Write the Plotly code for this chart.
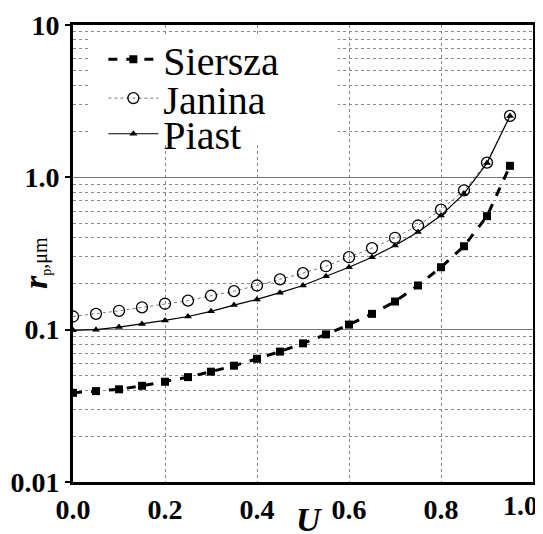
import plotly.graph_objects as go

U = [0.0, 0.05, 0.1, 0.15, 0.2, 0.25, 0.3, 0.35, 0.4, 0.45, 0.5, 0.55, 0.6, 0.65, 0.7, 0.75, 0.8, 0.85, 0.9, 0.95]
siersza = [0.0385, 0.0395, 0.0406, 0.0428, 0.0455, 0.0488, 0.053, 0.058, 0.0644, 0.0718, 0.0813, 0.0931, 0.108, 0.127, 0.153, 0.195, 0.257, 0.353, 0.556, 1.19]
janina = [0.122, 0.127, 0.133, 0.140, 0.148, 0.155, 0.167, 0.179, 0.195, 0.214, 0.235, 0.261, 0.299, 0.343, 0.401, 0.483, 0.613, 0.821, 1.25, 2.53]
piast = [0.099, 0.100, 0.104, 0.109, 0.115, 0.122, 0.132, 0.145, 0.158, 0.175, 0.195, 0.224, 0.257, 0.299, 0.357, 0.437, 0.562, 0.781, 1.24, 2.53]

x_ticks = [0.0, 0.2, 0.4, 0.6, 0.8]
x_ticktext = ["0.0", "0.2", "0.4", "0.6", "0.8"]
x_last_label = "1.0"
y_ticks = [0.01, 0.1, 1, 10]
y_ticktext = ["0.01", "0.1", "1.0", "10"]
y_minor = [m * 10.0 ** e for e in (-2, -1, 0) for m in range(2, 10)]

SERIF = "Liberation Serif"

fig = go.Figure()
fig.add_trace(go.Scatter(
    x=U, y=siersza, name="Siersza", mode="lines+markers", legend="legend",
    line=dict(color="black", width=3, dash="dash"),
    marker=dict(symbol="square", size=8, color="black")))
fig.add_trace(go.Scatter(
    x=U, y=janina, name="Janina", mode="lines+markers", legend="legend2",
    line=dict(color="#777", width=1, dash="dot"),
    marker=dict(symbol="circle-open", size=11, color="black", line=dict(width=1.3))))
fig.add_trace(go.Scatter(
    x=U, y=piast, name="Piast", mode="lines+markers", legend="legend3",
    line=dict(color="black", width=1.2),
    marker=dict(symbol="triangle-up", size=7, color="black")))

def leg(ypos):
    return dict(x=0.066, y=ypos, xanchor="left", yanchor="middle",
                bgcolor="rgba(0,0,0,0)", borderwidth=0,
                itemwidth=50,
                font=dict(family=SERIF, size=40, color="black"))

fig.update_layout(
    width=535, height=526,
    margin=dict(l=65, r=10, t=17, b=52, autoexpand=False),
    paper_bgcolor="white", plot_bgcolor="white",
    font=dict(family=SERIF, color="black"),
    showlegend=True,
    legend=leg(0.925),
    legend2=leg(0.840),
    legend3=leg(0.762),
    # white background panel behind the legend entries
    shapes=[dict(type="rect", xref="paper", yref="paper", x0=0.033, x1=0.576,
                 y0=0.744, y1=0.978, fillcolor="white", line=dict(width=0),
                 layer="above")],
    xaxis=dict(range=[0, 1], tickmode="array", tickvals=x_ticks, ticktext=x_ticktext,
               automargin=False,
               showline=True, linecolor="black", linewidth=3, mirror=True,
               showgrid=True, gridcolor="#888", griddash="dot", gridwidth=1,
               zeroline=False, ticks="",
               tickfont=dict(family=SERIF, size=28, color="black", weight="bold")),
    yaxis=dict(type="log", range=[-2, 1], tickmode="array", tickvals=y_ticks, ticktext=y_ticktext,
               automargin=False,
               showline=True, linecolor="black", linewidth=3, mirror=True,
               showgrid=True, gridcolor="#777", gridwidth=1,
               zeroline=False, ticks="outside", ticklen=5, tickwidth=1.5, tickcolor="black",
               tickfont=dict(family=SERIF, size=28, color="black", weight="bold"),
               minor=dict(tickmode="array", tickvals=y_minor, showgrid=True,
                          griddash="dot", gridcolor="#888", gridwidth=1, ticks="")),
    annotations=[
        dict(text="<b>" + x_last_label + "</b>", xref="x", yref="paper", x=0.972, y=-0.051,
             showarrow=False, font=dict(family=SERIF, size=28, color="black"),
             xanchor="center", yanchor="middle"),
        dict(text="<b><i>U</i></b>", xref="paper", yref="paper", x=0.515, y=-0.083,
             showarrow=False, font=dict(family=SERIF, size=34, color="black"),
             xanchor="center", yanchor="middle"),
        dict(text="<b><i>r</i></b><span style='font-size:20px'><sub>p</sub>,μm</span>",
             xref="paper", yref="paper", x=-0.083, y=0.479, textangle=-90,
             showarrow=False, font=dict(family=SERIF, size=34, color="black"),
             xanchor="center", yanchor="middle"),
    ],
)

fig.write_html("out.html")
